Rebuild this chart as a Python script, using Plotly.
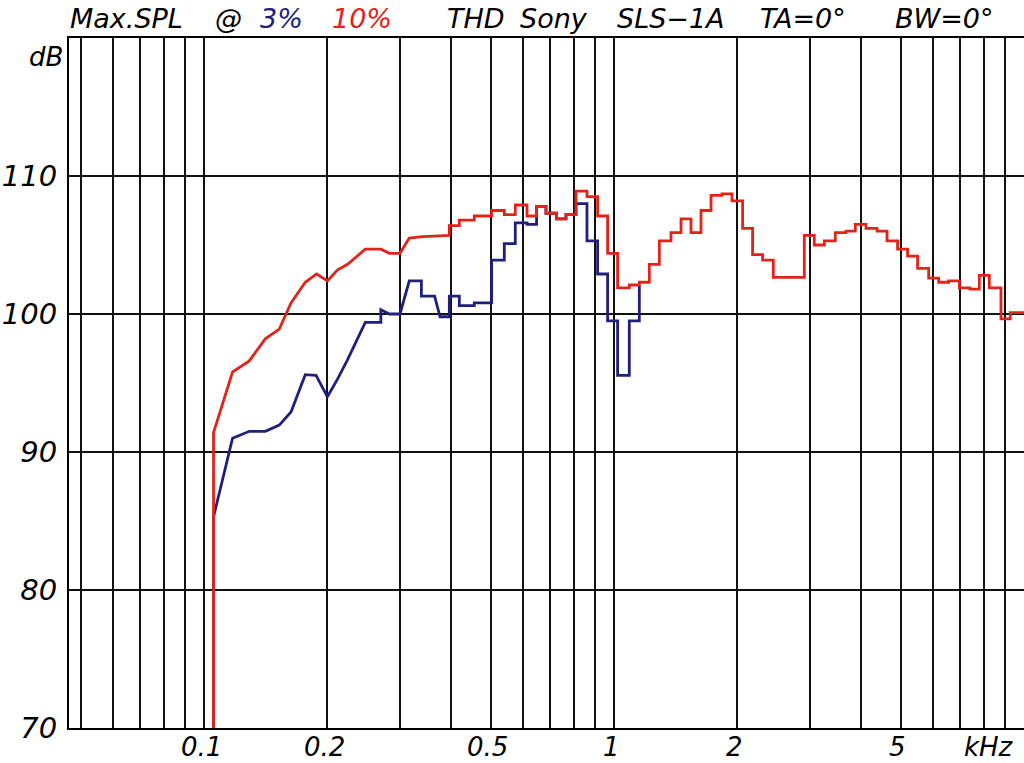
import math
import plotly.graph_objects as go

# ---------------- data ----------------
# Red: Max SPL @ 10% THD  (kHz, dB) - sloped low-frequency part
red_low_freq = [0.1055, 0.1055, 0.1174, 0.129, 0.1411, 0.1526, 0.163, 0.1766, 0.1882,
                0.2, 0.2118, 0.224, 0.2474, 0.27, 0.2832, 0.3006, 0.3167, 0.3416, 0.3966]
red_low_db = [60, 91.4, 95.8, 96.6, 98.2, 98.9, 100.8, 102.3, 102.9,
              102.4, 103.2, 103.6, 104.7, 104.7, 104.4, 104.4, 105.5, 105.6, 105.7]

# 1/12-octave band edges (kHz) for the stepped part
band_edges = [0.3966, 0.4195, 0.4563, 0.503, 0.5401, 0.5744, 0.6135, 0.6474, 0.6825, 0.7244,
              0.7636, 0.8078, 0.8592, 0.912, 0.9647, 1.0205, 1.0897, 1.1528, 1.2195, 1.2899,
              1.3772, 1.457, 1.541, 1.63, 1.7243, 1.834, 1.9399, 2.0592, 2.1779, 2.3038,
              2.4465, 2.9118, 3.0801, 3.2579, 3.4656, 3.6807, 3.8771, 4.1171, 4.3803, 4.6334,
              4.9166, 5.2008, 5.5015, 5.854, 6.1924, 6.5505, 6.9549, 7.3848, 7.7803, 8.23,
              8.7862, 9.2564, 10.0]
red_band_db = [106.4, 106.8, 107.1, 107.5, 107.2, 107.9, 107.1, 107.8, 107.3, 106.9,
               107.2, 108.9, 108.5, 107.1, 104.4, 101.9, 102.1, 102.3, 103.6, 105.3,
               105.9, 106.9, 105.9, 107.5, 108.6, 108.7, 108.2, 106.2, 104.3, 103.9,
               102.65, 105.7, 105.0, 105.3, 105.9, 106.0, 106.5, 106.2, 106.0, 105.3,
               104.7, 104.2, 103.3, 102.6, 102.3, 102.4, 101.9, 101.8, 102.8, 101.9,
               99.65, 100.1]

# Blue: Max SPL @ 3% THD
blue_low_freq = [0.1055, 0.1055, 0.1174, 0.129, 0.1411, 0.1526, 0.163, 0.1766, 0.1876, 0.2,
                 0.2118, 0.224, 0.2474, 0.27, 0.27, 0.2832, 0.3006, 0.3167, 0.339, 0.339,
                 0.3651, 0.3765, 0.3966, 0.3966, 0.4195, 0.4195, 0.4563, 0.4563, 0.503]
blue_low_db = [60, 85.3, 91.0, 91.5, 91.5, 91.95, 92.9, 95.6, 95.55, 94.0,
               95.3, 96.7, 99.4, 99.4, 100.3, 100.0, 100.0, 102.4, 102.4, 101.3,
               101.3, 99.8, 99.8, 101.3, 101.3, 100.6, 100.6, 100.8, 100.8]
blue_band_start = 3          # index into band_edges (0.503 kHz)
blue_band_db = [103.9, 105.1, 106.6, 106.5, 107.8, 107.3, 106.9, 107.2, 108.0, 105.3,
                102.9, 99.5, 95.55, 99.5]
blue_end_db = 102.1

# axis ticks
grid_freqs = [0.05, 0.06, 0.07, 0.08, 0.09, 0.1, 0.2, 0.3, 0.4, 0.5, 0.6, 0.7, 0.8, 0.9,
              1, 2, 3, 4, 5, 6, 7, 8, 9, 10]
label_freqs = [0.1, 0.2, 0.5, 1, 2, 5]
label_texts = ["0.1", "0.2", "0.5", "1", "2", "5"]
db_ticks = [70, 80, 90, 100, 110, 120]
db_labels = ["70", "80", "90", "100", "110", ""]


def stepped(edges, levels):
    xs, ys = [], []
    for i, lv in enumerate(levels):
        xs += [edges[i], edges[i + 1]]
        ys += [lv, lv]
    return xs, ys


rx, ry = stepped(band_edges, red_band_db)
red_x = red_low_freq + rx
red_y = red_low_db + ry

bx, by = stepped(band_edges[blue_band_start:], blue_band_db)
blue_x = blue_low_freq + bx + [bx[-1]]
blue_y = blue_low_db + by + [blue_end_db]

RED = "#e2231a"
BLUE = "#221e7e"
FONT = "DejaVu Sans"

fig = go.Figure()
fig.add_trace(go.Scatter(x=blue_x, y=blue_y, mode="lines",
                         line=dict(color=BLUE, width=2.8), showlegend=False))
fig.add_trace(go.Scatter(x=red_x, y=red_y, mode="lines",
                         line=dict(color=RED, width=2.8), showlegend=False))

W, H = 1024, 763
ML, MR, MT, MB = 69, 0, 38, 35
pw, ph = W - ML - MR, H - MT - MB
decades = pw / 410.0

fig.update_layout(
    width=W, height=H,
    margin=dict(l=ML, r=MR, t=MT, b=MB, autoexpand=False),
    paper_bgcolor="white", plot_bgcolor="white",
    xaxis=dict(type="log", range=[1 - decades, 1.0], automargin=False,
               tickvals=grid_freqs, showticklabels=False,
               showgrid=True, gridcolor="#111111", gridwidth=1.5,
               showline=True, linecolor="black", linewidth=2, mirror=True,
               ticks="", zeroline=False),
    yaxis=dict(range=[70, 120], tickvals=db_ticks, ticktext=db_labels, automargin=False,
               showgrid=True, gridcolor="#111111", gridwidth=1.5,
               showline=True, linecolor="black", linewidth=2, mirror=True,
               ticks="", zeroline=False, ticklabelstandoff=4,
               tickfont=dict(family=FONT, size=29, color="black", style="italic")),
)


def px_x(p):
    return (p - ML) / pw


def px_y(p):
    return (H - MB - p) / ph


# frequency labels under the axis (annotation x on a log axis is given in log10 units)
for f, t in zip(label_freqs, label_texts):
    fig.add_annotation(text=t, xref="x", yref="paper", x=math.log10(f), y=px_y(764),
                       xanchor="center", yanchor="bottom", showarrow=False, xshift=-3,
                       font=dict(family=FONT, size=26, color="black", style="italic"))

title_parts = [("Max.SPL", 68, "black"), ("@", 213, "black"), ("3%", 258, BLUE),
               ("10%", 330, RED), ("THD", 445, "black"), ("Sony", 518, "black"),
               ("SLS\u22121A", 615, "black"), ("TA=0\u00b0", 758, "black"),
               ("BW=0\u00b0", 893, "black")]
for txt, xp, col in title_parts:
    fig.add_annotation(text=txt, xref="paper", yref="paper", x=px_x(xp), y=px_y(1),
                       xanchor="left", yanchor="top", showarrow=False,
                       font=dict(family=FONT, size=27, color=col, style="italic"))

fig.add_annotation(text="dB", xref="paper", yref="paper", x=px_x(65), y=px_y(57),
                   xanchor="right", yanchor="middle", showarrow=False,
                   font=dict(family=FONT, size=26, color="black", style="italic"))
fig.add_annotation(text="kHz", xref="paper", yref="paper", x=px_x(989), y=px_y(764),
                   xanchor="center", yanchor="bottom", showarrow=False,
                   font=dict(family=FONT, size=26, color="black", style="italic"))

fig.write_html("out.html", config={"displayModeBar": False},
               post_script="document.body.style.margin='0';document.body.style.overflow='hidden';")
